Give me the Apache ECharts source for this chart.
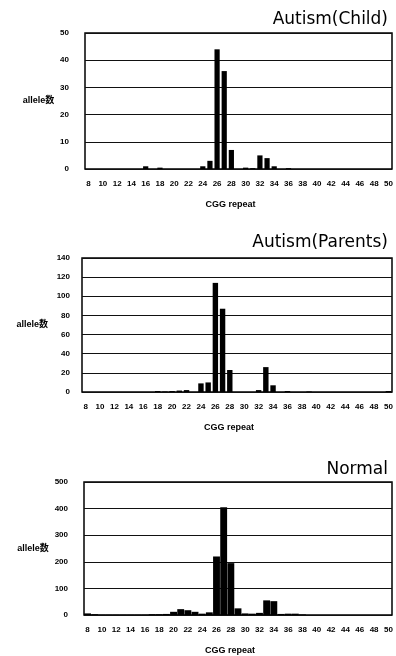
<!DOCTYPE html>
<html>
<head>
<meta charset="utf-8">
<script src="https://cdn.jsdelivr.net/npm/echarts@6/dist/echarts.min.js"></script>
<style>
  html, body { margin: 0; padding: 0; background: #fff; }
  #chart { width: 396px; height: 656px; }
</style>
</head>
<body>
<div id="chart"></div>
<script>
// CGG repeat 8..50
var repeats = []
for (var r = 8; r <= 50; r++) repeats.push(String(r))

var titles = ['Autism(Child)', 'Autism(Parents)', 'Normal']

//          8  9 10 11 12 13 14 15 16  17   18 19 20 21 22 23 24 25  26  27 28 29  30   31 32 33 34 35  36 37 38 39 40 41 42 43 44 45 46 47 48 49 50
var child = [0, 0, 0, 0, 0, 0, 0, 0, 1, 0, 0.5, 0, 0, 0, 0, 0, 1, 3, 44, 36, 7, 0, 0.5, 0.3, 5, 4, 1, 0, 0.3, 0, 0, 0, 0, 0, 0, 0, 0, 0, 0, 0, 0, 0, 0]
var parents = [0, 0, 0, 0, 0, 0, 0, 0, 0, 0, 1, 0.5, 1, 1.5, 2, 0, 9, 10, 114, 87, 23, 0, 0, 0, 2, 26, 7, 0, 1, 0, 0, 0.5, 0, 0, 0, 0, 0, 0, 0, 0, 0, 0, 1]
var normal = [6, 3, 1, 1, 1, 1, 1, 1, 1, 3, 3, 4, 12, 22, 18, 12, 5, 10, 220, 405, 195, 25, 6, 5, 8, 55, 52, 4, 5, 5, 2, 0, 0, 0, 0, 0, 0, 0, 0, 0, 0, 0, 0]

var yMax = [50, 140, 500]
var yStep = [10, 20, 100]
var seriesData = [child, parents, normal]

// layout of the three panels
var grids = [
    { left: 85, top: 33, width: 307, height: 136 },
    { left: 82, top: 258, width: 310, height: 134 },
    { left: 84, top: 482, width: 308, height: 133 },
]
var titleTop = [11, 234, 461]
var nameGaps = [30, 34, 34]
var gaps = ['27%', '25%', '4%']

var tickFont = { fontFamily: 'Liberation Sans', fontWeight: 'bold', fontSize: 8, color: '#000' }

var myChart = echarts.init(document.getElementById('chart'))
myChart.setOption({
    animation: false,
    backgroundColor: '#fff',
    title: titles.map(function (t, i) {
        return {
            text: t,
            right: 8,
            top: titleTop[i],
            padding: 0,
            textStyle: { fontFamily: 'DejaVu Sans', fontSize: 17, fontWeight: 'normal', color: '#000' },
        }
    }),
    grid: grids.map(function (g) {
        return Object.assign({ show: true, borderColor: '#000', borderWidth: 1.5, backgroundColor: 'transparent' }, g)
    }),
    xAxis: grids.map(function (g, i) {
        return {
            type: 'category',
            gridIndex: i,
            data: repeats,
            axisLine: { show: false },
            axisTick: { show: false },
            axisLabel: Object.assign({ interval: 1, margin: 11 }, tickFont),
            name: 'CGG repeat',
            nameLocation: 'middle',
            nameGap: 31,
            nameTextStyle: Object.assign({ padding: [0, 16, 0, 0] }, tickFont, { fontSize: 9 }),
        }
    }),
    yAxis: grids.map(function (g, i) {
        return {
            type: 'value',
            gridIndex: i,
            min: 0,
            max: yMax[i],
            interval: yStep[i],
            axisLine: { show: false },
            axisTick: { show: false },
            axisLabel: Object.assign({ margin: i === 1 ? 12 : 16 }, tickFont),
            splitLine: { lineStyle: { color: '#111', width: 1 } },
            name: 'allele数',
            nameLocation: 'middle',
            nameRotate: 0,
            nameGap: nameGaps[i],
            nameTextStyle: Object.assign({}, tickFont, { fontSize: 9, fontFamily: 'Liberation Sans, Noto Sans CJK JP' }),
        }
    }),
    series: seriesData.map(function (d, i) {
        return {
            type: 'bar',
            xAxisIndex: i,
            yAxisIndex: i,
            data: d,
            barCategoryGap: gaps[i],
            itemStyle: { color: '#000' },
        }
    }),
})
</script>
</body>
</html>
